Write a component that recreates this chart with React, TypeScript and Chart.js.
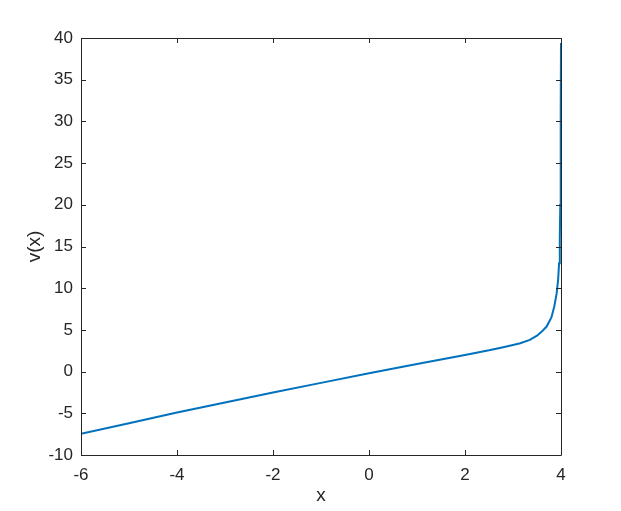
import React, { useEffect, useRef } from "react";
import { Chart, registerables } from "chart.js";

Chart.register(...registerables);

const xValues = [-6, -5, -4, -3, -2, -1, 0, 1, 2, 2.5, 2.75, 3.0, 3.15, 3.35, 3.5, 3.6, 3.7, 3.8, 3.86, 3.91, 3.94, 3.96, 3.975, 3.985, 3.992, 3.997, 4.0];
const vValues = [-7.45, -6.2, -4.9, -3.7, -2.5, -1.35, -0.2, 0.9, 2.0, 2.55, 2.87, 3.2, 3.4, 3.8, 4.3, 4.8, 5.4, 6.5, 7.8, 9.4, 11, 13, 16, 20, 26, 32, 39.4];
const xTicks = [-6, -4, -2, 0, 2, 4];
const yTicks = [-10, -5, 0, 5, 10, 15, 20, 25, 30, 35, 40];

const AXIS_COLOR = "#262626";
const FONT = "'Liberation Sans', Arial, Helvetica, sans-serif";

const boxPlugin = {
  id: "matlabBox",
  afterDatasetsDraw(chart: any) {
    const { ctx, chartArea } = chart;
    const { left, right, top, bottom } = chartArea;
    const xs = chart.scales.x;
    const ys = chart.scales.y;
    const tl = 5;
    ctx.save();
    ctx.strokeStyle = AXIS_COLOR;
    ctx.lineWidth = 1;
    ctx.beginPath();
    ctx.rect(Math.round(left) + 0.5, Math.round(top) + 0.5, Math.round(right - left), Math.round(bottom - top));
    ctx.stroke();
    ctx.beginPath();
    for (const t of xTicks) {
      const px = Math.round(xs.getPixelForValue(t)) + 0.5;
      ctx.moveTo(px, bottom);
      ctx.lineTo(px, bottom - tl);
      ctx.moveTo(px, top);
      ctx.lineTo(px, top + tl);
    }
    for (const t of yTicks) {
      const py = Math.round(ys.getPixelForValue(t)) + 0.5;
      ctx.moveTo(left, py);
      ctx.lineTo(left + tl, py);
      ctx.moveTo(right, py);
      ctx.lineTo(right - tl, py);
    }
    ctx.stroke();
    ctx.restore();
  },
};

export default function App() {
  const ref = useRef<HTMLCanvasElement | null>(null);
  useEffect(() => {
    if (!ref.current) return;
    const chart = new Chart(ref.current, {
      type: "line",
      data: {
        datasets: [
          {
            data: xValues.map((x, i) => ({ x, y: vValues[i] })),
            borderColor: "#0072BD",
            borderWidth: 2,
            pointRadius: 0,
            tension: 0,
            fill: false,
          },
        ],
      },
      options: {
        animation: false,
        responsive: false,
        layout: { padding: { top: 38, right: 60, left: 0, bottom: 0 } },
        plugins: { legend: { display: false }, tooltip: { enabled: false } },
        scales: {
          x: {
            type: "linear",
            min: -6,
            max: 4,
            afterBuildTicks: (s: any) => {
              s.ticks = xTicks.map((v) => ({ value: v }));
            },
            afterFit: (s: any) => {
              s.height = 56;
            },
            ticks: { color: AXIS_COLOR, font: { family: FONT, size: 17 }, padding: 10, maxRotation: 0 },
            grid: { display: false, drawTicks: false },
            border: { display: false },
            title: { display: true, text: "x", color: AXIS_COLOR, font: { family: FONT, size: 19 }, padding: { top: 0, bottom: 4 } },
          },
          y: {
            type: "linear",
            min: -10,
            max: 40,
            afterBuildTicks: (s: any) => {
              s.ticks = yTicks.map((v) => ({ value: v }));
            },
            afterFit: (s: any) => {
              s.width = 81;
            },
            ticks: { color: AXIS_COLOR, font: { family: FONT, size: 17 }, padding: 8 },
            grid: { display: false, drawTicks: false },
            border: { display: false },
            title: { display: true, text: "v(x)", color: AXIS_COLOR, font: { family: FONT, size: 19 }, padding: { top: 23, bottom: 0 } },
          },
        },
      },
      plugins: [boxPlugin],
    });
    return () => chart.destroy();
  }, []);
  return (
    <div style={{ position: "absolute", left: 0, top: 0, width: 621, height: 511, background: "#fff" }}>
      <canvas ref={ref} width={621} height={511} style={{ display: "block", width: 621, height: 511 }} />
    </div>
  );
}
